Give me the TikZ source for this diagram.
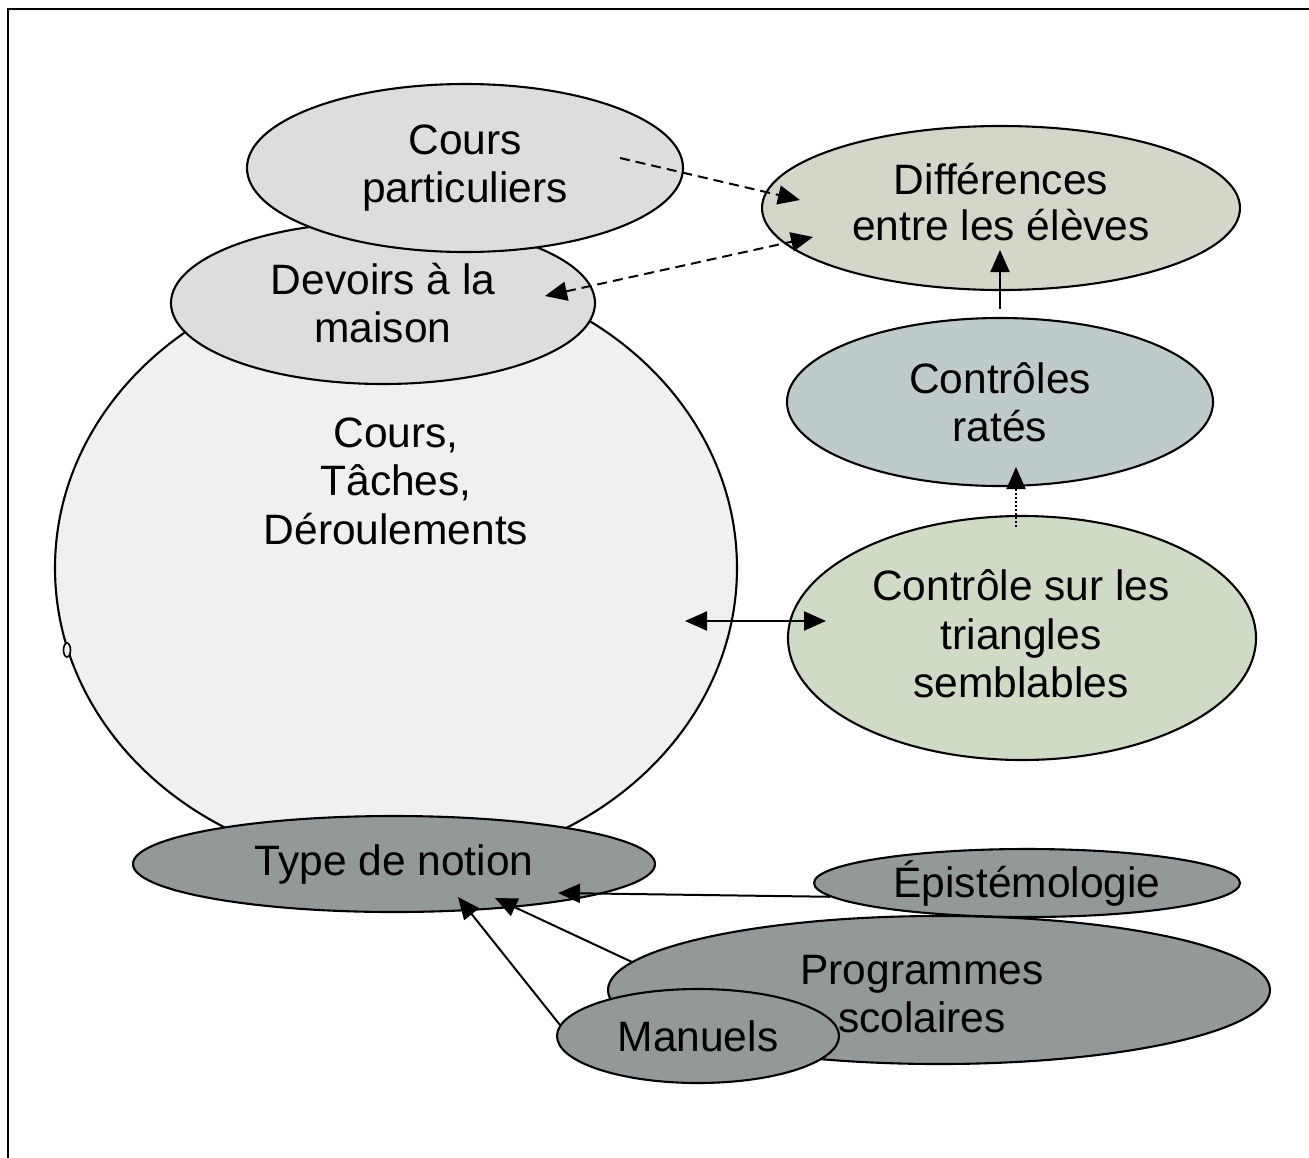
\documentclass[tikz,border=0pt]{standalone}
\usepackage{fontspec}
\setmainfont{Liberation Sans}
\usetikzlibrary{shapes.geometric,arrows.meta,calc}
\definecolor{lgray}{HTML}{DDDDDD}
\definecolor{biggray}{HTML}{F0F0F0}
\definecolor{difcol}{HTML}{D3D6C8}
\definecolor{ratcol}{HTML}{BFCBCB}
\definecolor{tricol}{HTML}{CFDBC4}
\definecolor{dkgray}{HTML}{939998}
\begin{document}
\begin{tikzpicture}[x=1pt,y=-1pt,
  bubble/.style={ellipse,draw=black,line width=2.1pt,inner sep=0pt,align=center,
    font=\fontsize{42.5}{48.5}\selectfont},
  txt/.style={align=center,inner sep=0pt,font=\fontsize{42.5}{48.5}\selectfont},
  arr/.style={line width=2pt,>={Triangle[length=22pt,width=19pt]}},
  dashline/.style={dash pattern=on 10pt off 6pt},
  dotline/.style={dash pattern=on 2pt off 2pt}]
\useasboundingbox (0,0) rectangle (1309,1157);
\fill[white] (0,0) rectangle (1309,1157);
% frame (only top and left edges visible)
\draw[line width=2.5pt] (8,1200) -- (8,9) -- (1330,9);

% big circle
\node[bubble,fill=biggray,minimum width=682pt,minimum height=600pt] (big) at (396,568) {};
\node[txt] (bigtxt) at (396,481) {Cours,\\Tâches,\\Déroulements};
\draw[line width=1.6pt,fill=biggray] (67,650) ellipse [x radius=3.5pt,y radius=7pt];

\node[bubble,fill=lgray,minimum width=424pt,minimum height=162pt] (dev) at (383,303) {Devoirs à la\\maison\rule{0pt}{0pt}};
\node[bubble,fill=lgray,minimum width=436pt,minimum height=168pt] (part) at (465,168) {Cours\\particuliers};
\node[bubble,fill=difcol,minimum width=478pt,minimum height=164pt] (dif) at (1001,208) {\raisebox{3pt}{\begin{tabular}{@{}c@{}}Différences\\[-2pt]entre les élèves\end{tabular}}};
\node[bubble,fill=ratcol,minimum width=426pt,minimum height=168pt] (rat) at (1000,402) {Contrôles\\ratés};
\node[bubble,fill=tricol,minimum width=468pt,minimum height=244pt] (tri) at (1022,638) {};
\node[txt] (tritxt) at (1021,634) {Contrôle sur les\\triangles\\semblables};

\node[bubble,fill=dkgray,minimum width=522pt,minimum height=96pt] (typ) at (394,864) {Type de notion};
\node[bubble,fill=dkgray,minimum width=426pt,minimum height=68pt] (epi) at (1027,883) {Épistémologie};
\node[bubble,fill=dkgray,minimum width=662pt,minimum height=148pt] (prog) at (939,990) {};
\node[txt] (progtxt) at (922,994) {Programmes\\scolaires};
\node[bubble,fill=dkgray,minimum width=282pt,minimum height=94pt] (man) at (698,1036) {Manuels};

% connectors
\draw[arr,->] (epi.184) -- ($(typ.center)+(164,29)$);
\draw[arr,->] ($(prog.center)+(-307,-28)$) -- ($(typ.center)+(101,34)$);
\draw[arr,->] ($(man.center)+(-138,-11)$) -- ($(typ.center)+(64,33)$);

\draw[arr,->,dashline] ($(part.center)+(155,-10)$) -- ($(dif.center)+(-201,-8)$);
\draw[arr,<->,dashline] ($(dev.center)+(162,-7)$) -- ($(dif.center)+(-188,29)$);
\draw[arr,<->] ($(big.center)+(289,53)$) -- ($(tri.center)+(-196,-17)$);
\draw[arr,->] ($(rat.north)+(0,-8)$) -- ($(dif.center)+(-1,42)$);
\draw[arr,->,dotline] ($(tri.center)+(-6,-111)$) -- ($(rat.center)+(16,65)$);
\end{tikzpicture}
\end{document}
